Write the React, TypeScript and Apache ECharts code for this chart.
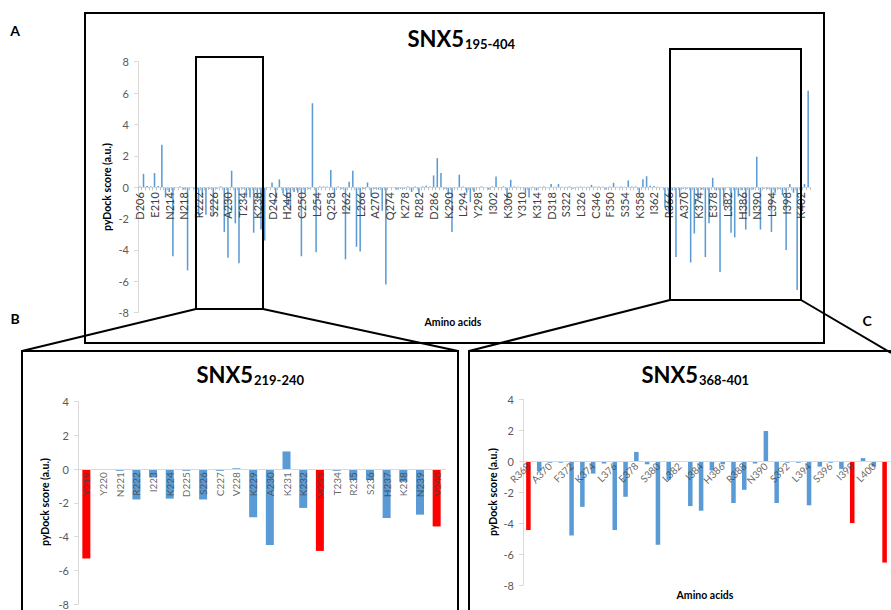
import React, { useEffect, useRef } from "react";
import * as echarts from "echarts";

// ---------- data ----------
// Panel A: SNX5 195-404 (residue ranges present on the category axis)
const topResidueRanges: [number, number][] = [
  [206, 329],
  [346, 404],
];
const topLabelNames = [
  "D206", "E210", "N214", "N218", "R222", "S226", "A230", "T234", "K238", "D242",
  "H246", "C250", "L254", "Q258", "I262", "L266", "A270", "Q274", "K278", "R282",
  "D286", "K290", "L294", "Y298", "I302", "K306", "Y310", "K314", "D318", "S322",
  "L326", "C346", "F350", "S354", "K358", "I362", "R366", "A370", "K374", "E378",
  "L382", "H386", "N390", "L394", "I398", "K402",
];
const topValues = [
  0.05, 0.85, 0.08, 0.05, 0.9, 0.08, 2.7, -0.65, -0.3, -4.4,
  -0.05, 0.05, -0.15, -5.3, 0, -0.1, -1.8, -0.5, -1.75, -0.1,
  -1.8, -0.1, 0.05, -2.85, -4.5, 1.05, -2.3, -4.85, -0.1, -0.65,
  -0.65, -2.9, -0.75, -2.7, -3.4, -0.05, 0.3, -1.0, 0.5, -0.4,
  -1.2, -1.3, -0.3, -0.35, -4.4, -0.4, -0.1, 5.35, -4.15, 0.05,
  0.05, 0.05, 1.1, -0.6, 0.05, -0.1, -4.6, 0.35, 1.05, -3.8,
  -4.1, -0.1, 0.3, -0.6, -0.1, -0.15, -1.5, -6.2, 0, -0.05,
  -0.15, -0.1, -0.1, 0.05, -0.3, 0.05, -0.45, 0.05, 0.1, 0.05,
  0.75, 1.85, 0.9, -0.1, -0.5, -2.85, -0.05, 0.8, 0.05, -0.35,
  -0.95, -0.3, -0.05, 0.05, -0.05, -0.15, 0.05, 0.68, -0.05, 0.05,
  -0.9, 0.47, 0.05, 0.03, -0.05, -0.4, -0.65, 0.03, -0.2, 0.03,
  0.05, -0.05, 0.2, 0.03, 0.2, 0.03, 0.03, 0.05, -0.1, 0.03,
  0.05, 0.03, 0.03, 0.15, 0.05, 0.05, 0.03, -0.15, 0.05, 0.28,
  0.03, 0.05, 0.03, 0.43, 0.05, 0.05, -0.4, 0.5, 0.7, 0.1,
  0.08, 0.03, -0.05, -1.3, -1.6, -0.2,
  -4.45, -0.65, -0.1, -0.1, -4.8, -2.95, -0.8, -0.15, -4.45, -2.3,
  0.6, -0.2, -5.4, -1.2, -0.05, -2.9, -3.2, -0.6, -0.2, -2.7,
  -1.85, -0.15, 1.95, -2.7, -0.1, -0.1, -2.85, -0.35, -0.1, -0.5,
  -4.0, 0.2, -0.35, -6.55,
  -0.1, 0.2, 6.15,
];

// Panel B: SNX5 219-240
const bNames = [
  "Y219", "Y220", "N221", "R222", "I223", "K224", "D225", "S226", "C227", "V228", "K229",
  "A230", "K231", "K232", "M233", "T234", "R235", "S236", "H237", "K238", "N239", "V240",
];
const bValues = [
  -5.3, 0, -0.1, -1.8, -0.5, -1.75, -0.1, -1.8, -0.1, 0.05, -2.85,
  -4.5, 1.05, -2.3, -4.85, -0.1, -0.65, -0.65, -2.9, -0.75, -2.7, -3.4,
];
const bHighlighted = ["Y219", "M233", "V240"];

// Panel C: SNX5 368-401
const cNames = [
  "R368", "369", "A370", "371", "F372", "373", "K374", "375", "L376", "377", "E378", "379",
  "S380", "381", "L382", "383", "I384", "385", "H386", "387", "R388", "389", "N390", "391",
  "S392", "393", "L394", "395", "S396", "397", "I398", "399", "L400", "401",
];
const cValues = [
  -4.45, -0.65, -0.1, -0.1, -4.8, -2.95, -0.8, -0.15, -4.45, -2.3, 0.6, -0.2,
  -5.4, -1.2, -0.05, -2.9, -3.2, -0.6, -0.2, -2.7, -1.85, -0.15, 1.95, -2.7,
  -0.1, -0.1, -2.85, -0.35, -0.1, -0.5, -4.0, 0.2, -0.35, -6.55,
];
const cHighlighted = ["R368", "I398", "401"];

const yTicksTop = { min: -8, max: 8, interval: 2 };
const yTicksZoom = { min: -8, max: 4, interval: 2 };

// ---------- build ----------
const knownNames: Record<number, string> = {};
[...topLabelNames, ...bNames, ...cNames].forEach((n) => {
  const num = parseInt(n.replace(/^[A-Z]/, ""), 10);
  if (/^[A-Z]/.test(n)) knownNames[num] = n;
});
const topCategories: string[] = [];
topResidueRanges.forEach(([a, b]) => {
  for (let r = a; r <= b; r++) topCategories.push(knownNames[r] ?? String(r));
});

const FONT = "Lato, 'Open Sans', sans-serif";
const BLUE = "#5B9BD5";
const RED = "#FF0000";
const LABEL = "#595959";
const TICKLABEL = "#404040";
const AXIS = "#D9D9D9";

const grids = [
  { left: 138, top: 61.7, width: 672, height: 251 },
  { left: 78, top: 401.7, width: 367, height: 202.3 },
  { left: 523, top: 399.3, width: 367, height: 185.7 },
];
const yScales = [yTicksTop, yTicksZoom, yTicksZoom];

// offset that lifts the category axis from the grid bottom up to value 0
function zeroOffset(i: number) {
  const t = yScales[i];
  return -(grids[i].height * (0 - t.min)) / (t.max - t.min);
}

function yAxis(gridIndex: number) {
  const t = yScales[gridIndex];
  return {
    type: "value",
    gridIndex,
    min: t.min,
    max: t.max,
    interval: t.interval,
    splitLine: { show: false },
    axisLine: { show: true, lineStyle: { color: AXIS, width: 1 } },
    axisTick: { show: true, length: 4, lineStyle: { color: AXIS } },
    axisLabel: { color: LABEL, fontSize: 11, fontFamily: FONT, margin: 9 },
  };
}

function xAxis(gridIndex: number, data: string[], opts: any) {
  return {
    type: "category",
    gridIndex,
    data,
    z: 50,
    position: "bottom",
    offset: zeroOffset(gridIndex),
    axisLine: { show: true, onZero: false, lineStyle: { color: AXIS, width: 1 } },
    axisTick: { show: opts.tickLen > 0, interval: 0, length: opts.tickLen, lineStyle: { color: "#BFBFBF" } },
    axisLabel: {
      show: opts.showLabels,
      interval: opts.interval ?? 0,
      rotate: opts.rotate ?? 0,
      color: TICKLABEL,
      fontSize: opts.fontSize ?? 10,
      fontFamily: FONT,
      margin: opts.margin ?? 3,
    },
  };
}

// category labels drawn on top of the bars, anchored at value 0
function labelSeries(axisIndex: number, names: string[], rotate: number) {
  return {
    type: "scatter",
    xAxisIndex: axisIndex,
    yAxisIndex: axisIndex,
    symbolSize: 0,
    silent: true,
    z: 20,
    data: names.filter((n) => /^[A-Z]/.test(n)).map((n) => ({ name: n, value: [n, 0] })),
    label: {
      show: true,
      formatter: "{b}",
      position: "bottom",
      distance: 3,
      rotate,
      align: "right",
      verticalAlign: "middle",
      color: TICKLABEL,
      fontSize: 10,
      fontFamily: FONT,
    },
  };
}

function txt(x: number, y: number, text: string, fontSize: number, opts: any = {}) {
  return {
    type: "text",
    x,
    y,
    rotation: opts.rotation ?? 0,
    z: 100,
    style: {
      text,
      x: 0,
      y: 0,
      fill: opts.fill ?? "#000",
      fontSize,
      fontWeight: "bold",
      fontFamily: FONT,
      align: opts.align ?? "center",
      verticalAlign: "middle",
      textAlign: opts.align ?? "center",
      textVerticalAlign: "middle",
    },
  };
}

function rect(x: number, y: number, w: number, h: number) {
  return {
    type: "rect",
    z: 90,
    shape: { x, y, width: w, height: h },
    style: { fill: "none", stroke: "#000", lineWidth: 2 },
  };
}

function line(x1: number, y1: number, x2: number, y2: number) {
  return {
    type: "line",
    z: 90,
    shape: { x1, y1, x2, y2 },
    style: { stroke: "#000", lineWidth: 2 },
  };
}

function title(xSplit: number, yMain: number, main: string, sub: string) {
  return [
    txt(xSplit, yMain, main, 22, { align: "right" }),
    txt(xSplit + 1, yMain + 6, sub, 13, { align: "left" }),
  ];
}

export default function App() {
  const ref = useRef<HTMLDivElement>(null);
  useEffect(() => {
    if (!ref.current) return;
    const chart = echarts.init(ref.current, undefined, { renderer: "svg" });
    const option: any = {
      animation: false,
      backgroundColor: "#fff",
      grid: grids,
      xAxis: [
        xAxis(0, topCategories, { showLabels: true, interval: 3, rotate: 90, fontSize: 11, margin: 5, tickLen: 3 }),
        xAxis(1, bNames, { showLabels: false, tickLen: 0 }),
        xAxis(2, cNames, { showLabels: false, tickLen: 0 }),
      ],
      yAxis: [yAxis(0), yAxis(1), yAxis(2)],
      series: [
        {
          type: "bar",
          xAxisIndex: 0,
          yAxisIndex: 0,
          z: 1,
          data: topValues,
          barWidth: "42%",
          itemStyle: { color: BLUE },
        },
        {
          type: "bar",
          xAxisIndex: 1,
          yAxisIndex: 1,
          z: 1,
          barWidth: "48%",
          data: bValues.map((v, i) => ({
            value: v,
            itemStyle: { color: bHighlighted.includes(bNames[i]) ? RED : BLUE },
          })),
        },
        {
          type: "bar",
          xAxisIndex: 2,
          yAxisIndex: 2,
          z: 1,
          barWidth: "42%",
          data: cValues.map((v, i) => ({
            value: v,
            itemStyle: { color: cHighlighted.includes(cNames[i]) ? RED : BLUE },
          })),
        },
        labelSeries(1, bNames, 90),
        labelSeries(2, cNames, 45),
      ],
      graphic: [
        rect(85, 13, 739, 330),
        rect(196, 57, 67, 252),
        rect(670, 49, 131, 251),
        rect(22, 351, 436, 270),
        rect(469, 351, 440, 270),
        line(196, 309, 22, 351),
        line(263, 309, 458, 351),
        line(670, 300, 469, 351),
        line(801, 300, 891, 353),
        txt(15, 30, "A", 14),
        txt(15, 318, "B", 14),
        txt(867, 320, "C", 14),
        ...title(464, 38, "SNX5", "195-404"),
        ...title(253, 374, "SNX5", "219-240"),
        ...title(698, 374, "SNX5", "368-401"),
        txt(107, 187, "pyDock score (a.u.)", 10.5, { rotation: Math.PI / 2 }),
        txt(45, 502, "pyDock score (a.u.)", 10.5, { rotation: Math.PI / 2 }),
        txt(493, 492, "pyDock score (a.u.)", 10.5, { rotation: Math.PI / 2 }),
        txt(453, 322, "Amino acids", 10.5),
        txt(705, 595, "Amino acids", 10.5),
      ],
    };
    chart.setOption(option);
    return () => chart.dispose();
  }, []);
  return (
    <div
      ref={ref}
      style={{ position: "fixed", left: 0, top: 0, width: 891, height: 610, background: "#fff" }}
    />
  );
}
